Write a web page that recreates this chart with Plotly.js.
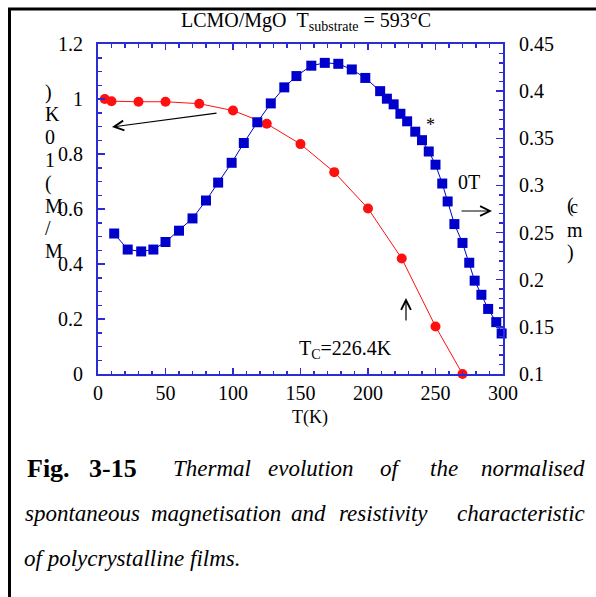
<!DOCTYPE html>
<html>
<head>
<meta charset="utf-8">
<script src="https://cdn.plot.ly/plotly-3.0.1.min.js"></script>
<style>html,body{margin:0;padding:0;background:#fff;}#chart{width:596px;height:597px;}</style>
</head>
<body>
<div id="chart"></div>
<script>
// ---- data ----
var magT = [5, 10, 30, 50, 75, 100, 125, 150, 175, 200, 225, 250, 270];
var magM = [1.0, 0.992, 0.99, 0.99, 0.983, 0.958, 0.91, 0.836, 0.734, 0.602, 0.42, 0.173, 0.0];

var resT = [12, 22, 32, 41, 50, 60, 70, 80, 89, 99, 108, 118, 128, 138, 147, 158, 168, 178, 188, 198,
            209, 214, 219, 224, 229, 235, 240, 245, 250, 255, 259, 264, 270, 275, 279, 284, 289, 295, 299];
var resRho = [0.249, 0.232, 0.230, 0.232, 0.240, 0.252, 0.265, 0.284, 0.303, 0.324, 0.345, 0.367, 0.387, 0.404, 0.416, 0.427, 0.430, 0.429, 0.423, 0.414,
              0.400, 0.392, 0.386, 0.376, 0.368, 0.357, 0.348, 0.336, 0.322, 0.302, 0.283, 0.259, 0.239, 0.218, 0.199, 0.184, 0.169, 0.155, 0.143];

var xTitle = "T(K)";
var chartTitle = "LCMO/MgO\u00a0\u00a0T<sub>substrate</sub> = 593°C";
var leftLabelChars = [")", "K", "0", "1", "(", "M", "/", "M"];
var rightLabelChars = ["(", "m", ")"];
var caption1 = ["Fig.", "3-15", "Thermal", "evolution", "of", "the", "normalised"];
var caption2 = ["spontaneous", "magnetisation", "and", "resistivity", "characteristic"];
var caption3 = "of polycrystalline films.";

// ---- layout helpers ----
var W = 596, H = 597;
var M = {l: 98, r: 93, t: 44, b: 223};
var PW = W - M.l - M.r, PH = H - M.t - M.b;
function px(x) { return (x - M.l) / PW; }
function py(y) { return (H - M.b - y) / PH; }

var FONT = "Liberation Serif, Times New Roman, serif";
var AX = "#2c2cd4";

var traces = [
  {x: magT, y: magM, type: "scatter", mode: "lines+markers", yaxis: "y",
   line: {color: "#ff1010", width: 1}, marker: {color: "#ff1010", size: 10, symbol: "circle"},
   cliponaxis: false, showlegend: false, hoverinfo: "skip"},
  {x: resT, y: resRho, type: "scatter", mode: "lines+markers", yaxis: "y2",
   line: {color: "#0000cc", width: 1}, marker: {color: "#0000cc", size: 10, symbol: "square"},
   cliponaxis: false, showlegend: false, hoverinfo: "skip"}
];

var ann = [];
function txt(x, y, t, opt) {
  var a = {xref: "paper", yref: "paper", x: px(x), y: py(y), text: t, showarrow: false,
           xanchor: "center", yanchor: "middle", font: {family: FONT, size: 20, color: "#000"}};
  for (var k in opt) { if (k === "font") { for (var f in opt.font) a.font[f] = opt.font[f]; } else a[k] = opt[k]; }
  ann.push(a);
}
function arrow(hx, hy, tx, ty) {
  ann.push({xref: "paper", yref: "paper", x: px(hx), y: py(hy), ax: tx - hx, ay: ty - hy,
            text: "", showarrow: true, arrowhead: 5, arrowsize: 1.6, arrowwidth: 1.2,
            arrowcolor: "#000", standoff: 0, startstandoff: 0});
}

// title
txt(306, 21, chartTitle, {});
// axis title
txt(310, 417, xTitle, {font: {size: 18}});
// vertical left label
var ly = [93, 114, 137, 160, 184, 206, 228, 251];
for (var i = 0; i < leftLabelChars.length; i++) txt(43, ly[i], leftLabelChars[i], {xanchor: "left"});
// right label
var ry = [205, 230, 252];
for (var j = 0; j < rightLabelChars.length; j++) txt(565, ry[j], rightLabelChars[j], {xanchor: "left"});
txt(568, 207, "c", {xanchor: "left", font: {size: 18}});
// in-plot annotations
txt(430, 125, "*", {font: {size: 18}});
txt(456, 182, "0T", {xanchor: "left"});
txt(297, 349, "T<sub>C</sub>=226.4K", {xanchor: "left"});
arrow(112, 127, 218, 113);
arrow(406, 298, 406, 322);
arrow(492, 211, 460, 211);

// caption
var capFont = {family: FONT, size: 23, color: "#000", style: "italic"};
txt(25, 468, "<b>" + caption1[0] + "</b>", {xanchor: "left", font: {size: 26, style: "normal"}});
txt(87, 468, "<b>" + caption1[1] + "</b>", {xanchor: "left", font: {size: 26, style: "normal"}});
var c1x = [212, 311, 391, 444];
for (var k1 = 2; k1 < 6; k1++) txt(c1x[k1 - 2], 468, caption1[k1], {font: capFont});
txt(587, 468, caption1[6], {xanchor: "right", font: capFont});
txt(23, 513, caption2[0], {xanchor: "left", font: capFont});
var c2x = [216, 308, 383];
for (var k2 = 1; k2 < 4; k2++) txt(c2x[k2 - 1], 513, caption2[k2], {font: capFont});
txt(587, 513, caption2[4], {xanchor: "right", font: capFont});
txt(22, 558, caption3, {xanchor: "left", font: capFont});

var shapes = [
  {type: "line", xref: "paper", yref: "paper", x0: px(8), x1: px(596), y0: py(9), y1: py(9), line: {color: "#000", width: 3}},
  {type: "line", xref: "paper", yref: "paper", x0: px(9.5), x1: px(9.5), y0: py(8), y1: py(597), line: {color: "#000", width: 3}}
];

var axFont = {family: FONT, size: 20, color: "#000"};
var layout = {
  width: W, height: H, margin: M, paper_bgcolor: "#fff", plot_bgcolor: "#fff",
  showlegend: false, font: {family: FONT, color: "#000"},
  xaxis: {range: [0, 300], dtick: 50, tick0: 0, ticks: "inside", ticklen: 6, tickwidth: 1.5, tickcolor: AX,
          showline: true, linecolor: AX, linewidth: 2, mirror: "ticks", showgrid: false, zeroline: false,
          tickfont: axFont, ticklabelstandoff: 0,
          minor: {dtick: 10, ticks: "inside", ticklen: 3.5, tickwidth: 1.5, tickcolor: AX, showgrid: false}},
  yaxis: {range: [0, 1.2], dtick: 0.2, tick0: 0, ticks: "inside", ticklen: 7, tickwidth: 1.5, tickcolor: AX,
          showline: true, linecolor: AX, linewidth: 2, showgrid: false, zeroline: false,
          tickfont: axFont, ticklabelstandoff: 9,
          minor: {dtick: 0.05, ticks: "inside", ticklen: 4, tickwidth: 1.5, tickcolor: AX, showgrid: false}},
  yaxis2: {range: [0.1, 0.45], dtick: 0.05, tick0: 0.1, overlaying: "y", side: "right", ticks: "inside", ticklen: 7,
           tickwidth: 1.5, tickcolor: AX, showline: true, linecolor: AX, linewidth: 2, showgrid: false, zeroline: false,
           tickfont: axFont, ticklabelstandoff: 10,
           minor: {dtick: 0.01, ticks: "inside", ticklen: 4, tickwidth: 1.5, tickcolor: AX, showgrid: false}},
  annotations: ann, shapes: shapes
};

Plotly.newPlot("chart", traces, layout, {staticPlot: true, displayModeBar: false});
</script>
</body>
</html>
